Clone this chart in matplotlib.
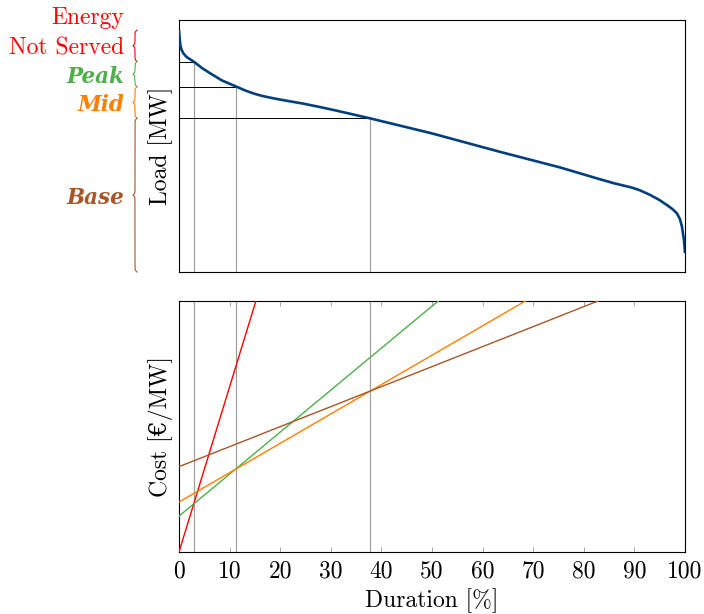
import numpy as np
import matplotlib
matplotlib.use("Agg")
import matplotlib.pyplot as plt
from matplotlib.lines import Line2D
from matplotlib.transforms import blended_transform_factory

# ---------------- data ----------------
duration = [0, 0.1, 0.26, 0.5, 0.86, 1.5, 2.2, 2.9, 4.5, 6.2, 8.5, 11.4, 13,
            14.5, 16, 17.5, 19.5, 22, 24.6, 28, 31.2, 37.7, 41.8, 50, 63.4,
            75.3, 83.2, 86, 89.5, 91, 93.1, 95, 96.4, 97.5, 98.4, 99.0, 99.4,
            99.8, 100]
load = [96.0, 93.5, 90.1, 88.2, 86.8, 85.3, 84.4, 83.5, 81.0, 78.8, 76.0, 73.5,
        72.1, 71.0, 70.1, 69.4, 68.6, 67.7, 66.8, 65.4, 64.0, 61.0, 59.0, 55.0,
        47.7, 41.5, 36.8, 35.2, 33.5, 32.5, 30.6, 28.5, 26.6, 25.0, 23.3, 21.0,
        18.0, 12.5, 7.5]

technologies = ["Energy\nNot Served", "Peak", "Mid", "Base"]
fixed_cost = [0.0, 14.3, 19.9, 34.0]          # cost at 0 % duration
variable_cost = [6.58, 1.673, 1.17, 0.797]     # cost per % of duration
breakpoints = [2.9, 11.3, 37.7]                # duration [%]
levels = [83.5, 73.5, 61.0]                    # load at breakpoints
brace_edges = [96.0, 83.5, 73.5, 61.0, 0.0]   # load bands
x_ticks = list(range(0, 101, 10))

colors = ["#ff0000", "#4daf4a", "#ff7f00", "#a65628"]
curve_color = "#003f7f"
grey = "#9a9a9a"

# ---------------- style ----------------
plt.rcParams["font.family"] = ["cmr10", "DejaVu Serif"]
plt.rcParams["mathtext.fontset"] = "cm"
plt.rcParams["axes.unicode_minus"] = False
plt.rcParams["axes.formatter.use_mathtext"] = True
FS = 17

W, H = 704, 614
fig = plt.figure(figsize=(W / 100, H / 100), dpi=100)

def ax_rect(l, t, r, b):
    return [l / W, 1 - b / H, (r - l) / W, (b - t) / H]

ax1 = fig.add_axes(ax_rect(179, 20, 685, 272))
ax2 = fig.add_axes(ax_rect(179, 301, 685, 552))

for ax in (ax1, ax2):
    for s in ax.spines.values():
        s.set_linewidth(0.8)
    ax.set_xlim(0, 100)

# ---------------- top: load duration curve ----------------
ax1.set_ylim(0, 100)
ax1.set_xticks([])
ax1.set_yticks([])
ax1.plot(duration, load, color=curve_color, lw=1.9, solid_capstyle="butt",
         solid_joinstyle="round", zorder=3)
for bp, lv in zip(breakpoints, levels):
    ax1.plot([0, bp], [lv, lv], color="black", lw=0.7, zorder=2)
    ax1.plot([bp, bp], [0, lv], color=grey, lw=0.8, zorder=1)
ax1.set_ylabel("Load [MW]", fontsize=FS, labelpad=4)

# ---------------- bottom: screening curves ----------------
ax2.set_ylim(0, 100)
xs = np.array([0, 100])
for f, v, c in zip(fixed_cost, variable_cost, colors):
    ax2.plot(xs, f + v * xs, color=c, lw=1.0, zorder=3)
for bp in breakpoints:
    ax2.axvline(bp, color=grey, lw=0.8, zorder=1)
ax2.set_yticks([])
ax2.set_xticks(x_ticks)
ax2.set_xticklabels([str(t) for t in x_ticks], fontsize=FS)
ax2.tick_params(axis="x", direction="in", top=True, length=3.5, width=0.6,
                color=grey, pad=6)
ax2.set_xlabel("Duration [%]", fontsize=FS, labelpad=4)
ax2.set_ylabel("Cost [€/MW]", fontsize=FS, labelpad=4)

# ---------------- braces and labels ----------------
fig.canvas.draw()
to_fig = fig.transFigure.inverted()
x_base_px = 137.0
w_px = 4.0
r_px = 1.8

def brace(y_hi, y_lo, color):
    y_top = ax1.transData.transform((0, y_hi))[1]
    y_bot = ax1.transData.transform((0, y_lo))[1]
    ym = 0.5 * (y_top + y_bot)
    yl = np.linspace(y_bot, ym, 200)
    dl = w_px / 2 * np.tanh((yl - y_bot) / r_px) + w_px / 2 * (1 + np.tanh((yl - ym) / r_px))
    yu = np.linspace(ym, y_top, 200)
    du = w_px / 2 * np.tanh((y_top - yu) / r_px) + w_px / 2 * (1 + np.tanh((ym - yu) / r_px))
    y = np.concatenate([yl, yu])
    d = np.concatenate([dl, du])
    pts = to_fig.transform(np.column_stack([x_base_px - d, y]))
    fig.add_artist(Line2D(pts[:, 0], pts[:, 1], color=color, lw=0.8,
                          transform=fig.transFigure))

lab_x = (124 - 179) / 506
blend = blended_transform_factory(ax1.transAxes, ax1.transData)
for i, (name, c) in enumerate(zip(technologies, colors)):
    y_hi, y_lo = brace_edges[i], brace_edges[i + 1]
    brace(y_hi, y_lo, c)
    ymid = 0.5 * (y_hi + y_lo)
    if i == 0:
        first, second = name.split("\n")
        ax1.text(lab_x, ymid, second, transform=blend, ha="right",
                 va="center_baseline", color=c, fontsize=FS, clip_on=False)
        ax1.annotate(first, xy=(lab_x, ymid), xycoords=blend,
                     xytext=(0, 21.6), textcoords="offset points",
                     ha="right", va="center_baseline", color=c, fontsize=FS,
                     annotation_clip=False)
    else:
        ax1.text(lab_x, ymid, name, transform=blend, ha="right",
                 va="center_baseline", color=c, fontsize=15.5,
                 family="DejaVu Serif", style="italic", weight="bold",
                 clip_on=False)

fig.savefig("out.png", dpi=100)
